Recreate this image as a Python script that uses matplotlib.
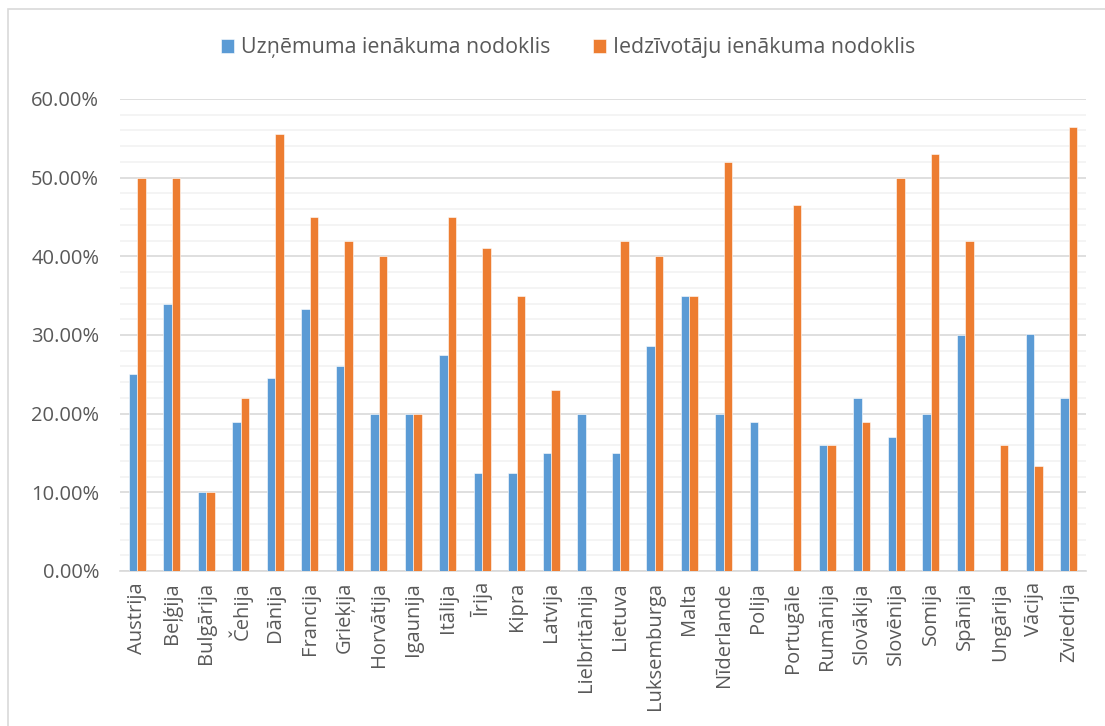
import matplotlib.pyplot as plt
import numpy as np
from matplotlib.patches import Rectangle
from matplotlib.ticker import MultipleLocator, FuncFormatter

countries = ['Austrija', 'Beļģija', 'Bulgārija', 'Čehija', 'Dānija', 'Francija', 'Grieķija',
             'Horvātija', 'Igaunija', 'Itālija', 'Īrija', 'Kipra', 'Latvija', 'Lielbritānija',
             'Lietuva', 'Luksemburga', 'Malta', 'Nīderlande', 'Polija', 'Portugāle', 'Rumānija',
             'Slovākija', 'Slovēnija', 'Somija', 'Spānija', 'Ungārija', 'Vācija', 'Zviedrija']
uzn = [25, 34, 10, 19, 24.5, 33.33, 26, 20, 20, 27.5, 12.5, 12.5, 15, 20,
       15, 28.6, 35, 20, 19, 0, 16, 22, 17, 20, 30, 0, 30.18, 22]
iedz = [50, 50, 10, 22, 55.6, 45, 42, 40, 20, 45, 41, 35, 23, 0,
        42, 40, 35, 52, 0, 46.5, 16, 19, 50, 53, 42, 16, 13.4, 56.5]

blue = '#5B9BD5'
orange = '#ED7D31'
txt = '#595959'
fs = 14.5

plt.rcParams['font.family'] = ['Open Sans', 'DejaVu Sans']

fig = plt.figure(figsize=(11.05, 7.26), dpi=100)
ax = fig.add_axes([120 / 1105, 1 - 571 / 726, 966 / 1105, 472 / 726])

x = np.arange(len(countries))
w = 0.24
ax.bar(x - w / 2, uzn, w, color=blue, edgecolor='white', linewidth=0.4,
       label='Uzņēmuma ienākuma nodoklis', zorder=3)
ax.bar(x + w / 2, iedz, w, color=orange, edgecolor='white', linewidth=0.4,
       label='Iedzīvotāju ienākuma nodoklis', zorder=3)

ax.set_xlim(-0.5, len(countries) - 0.5)
ax.set_ylim(0, 60)
ax.yaxis.set_major_locator(MultipleLocator(10))
ax.yaxis.set_minor_locator(MultipleLocator(2))
ax.yaxis.set_major_formatter(FuncFormatter(lambda v, p: f'{v:.2f}%'))
ax.grid(axis='y', which='major', color='#D9D9D9', linewidth=1.2, zorder=0)
ax.grid(axis='y', which='minor', color='#F2F2F2', linewidth=1.2, zorder=0)
ax.set_axisbelow(True)

for s in ['top', 'right', 'left']:
    ax.spines[s].set_visible(False)
ax.spines['bottom'].set_color('#D9D9D9')
ax.spines['bottom'].set_linewidth(1.2)

ax.set_xticks(x)
ax.set_xticklabels(countries, rotation=90, fontsize=fs, color=txt)
ax.tick_params(axis='x', length=0, pad=8)
ax.tick_params(axis='y', which='both', length=0, labelsize=fs, labelcolor=txt, pad=15)

leg = fig.legend(loc='center', bbox_to_anchor=(568 / 1105, 1 - 48 / 726), ncol=2, frameon=False,
                 fontsize=15.4, handlelength=0.62, handleheight=0.62, handletextpad=0.3,
                 columnspacing=2.0)
for t in leg.get_texts():
    t.set_color(txt)

# outer chart border (left and top visible in the crop)
fig.patches.append(Rectangle((8 / 1105, -0.1), 1.2, 1 - 9 / 726 + 0.1, transform=fig.transFigure,
                             fill=False, edgecolor='#D9D9D9', linewidth=1.2))

fig.savefig('out.png', dpi=100, facecolor='white')
